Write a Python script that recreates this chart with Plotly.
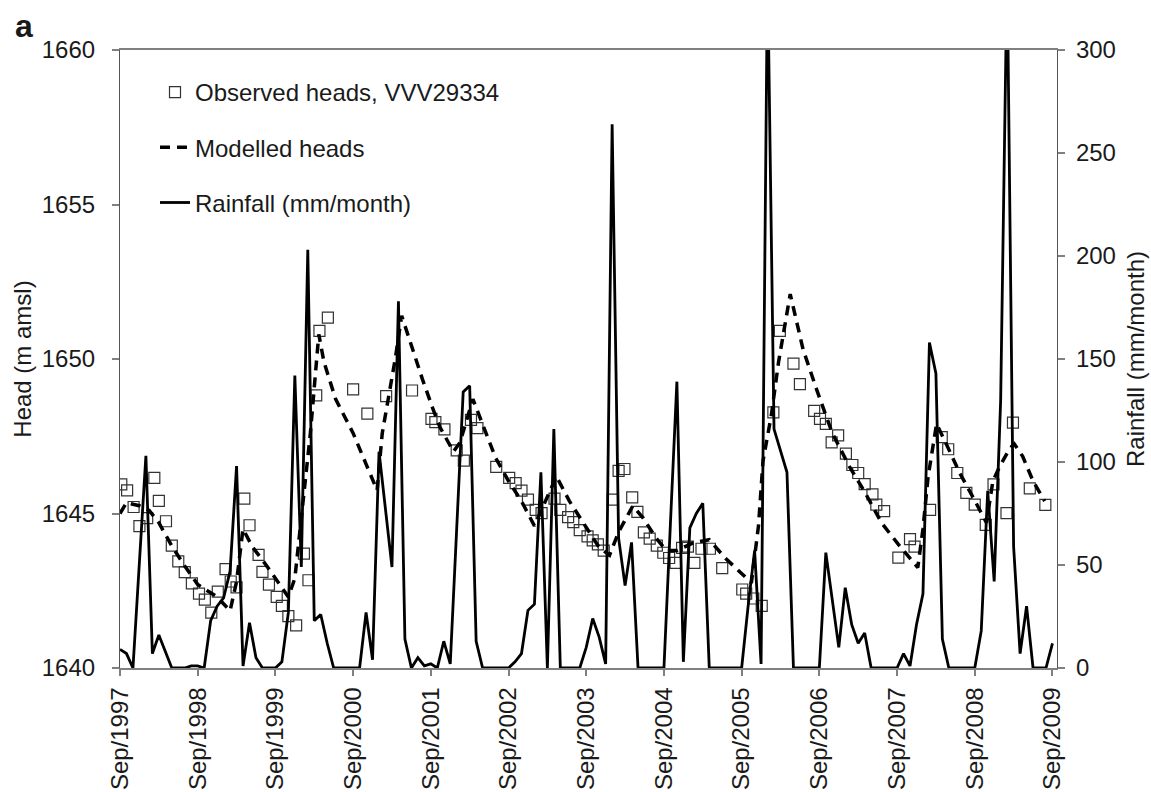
import plotly.graph_objects as go

# ---------------- data ----------------
tick_months = [0, 12, 24, 36, 48, 60, 72, 84, 96, 108, 120, 132, 144]
tick_labels = ["Sep/1997", "Sep/1998", "Sep/1999", "Sep/2000", "Sep/2001", "Sep/2002",
               "Sep/2003", "Sep/2004", "Sep/2005", "Sep/2006", "Sep/2007", "Sep/2008",
               "Sep/2009"]

# monthly rainfall (mm/month), months since Sep 1997
rain_month = list(range(145))
rain_mm = [9, 7, 0, 50, 103, 7, 16, 8, 0, 0, 0, 1,
           1, 0, 23, 30, 34, 47, 98, 1, 22, 5, 0, 0,
           0, 3, 27, 142, 49, 203, 23, 26, 12, 0, 0, 0,
           0, 0, 27, 4, 105, 77, 49, 178, 14, 0, 5, 1,
           2, 0, 13, 2, 68, 134, 137, 13, 0, 0, 0, 0,
           0, 3, 7, 28, 31, 95, 0, 116, 0, 0, 0, 0,
           10, 24, 15, 2, 264, 63, 40, 61, 0, 0, 0, 0,
           0, 70, 139, 3, 68, 75, 80, 0, 0, 0, 0, 0,
           0, 30, 57, 2, 340, 116, 106, 95, 0, 0, 0, 0,
           0, 56, 33, 10, 39, 21, 12, 17, 0, 0, 0, 0,
           0, 7, 1, 21, 36, 158, 143, 14, 0, 0, 0, 0,
           0, 18, 86, 42, 130, 340, 59, 7, 30, 0, 0, 0,
           12]

# observed heads (m amsl)
obs_month = [0.2, 1.1, 2.1, 3.0, 4.2, 5.3, 6.0, 7.1, 8.0, 9.0, 10.0, 11.1, 12.2, 13.1, 14.1,
             15.1, 16.3, 17.1, 18.0, 19.2, 20.0, 21.4, 22.0, 23.0, 24.2, 25.0, 26.0, 27.2,
             28.4, 29.1, 30.3, 30.8, 32.1, 36.0, 38.2, 41.1, 45.1, 48.1, 48.7, 50.1, 52.0,
             53.1, 54.2, 55.2, 58.1, 60.1, 61.1, 62.0, 63.0, 64.2, 65.1, 67.1, 68.0, 69.2,
             70.0, 71.0, 72.2, 73.0, 73.8, 74.7, 76.1, 77.0, 77.9, 79.1, 79.9, 80.9, 81.8,
             82.9, 83.9, 84.8, 85.8, 86.8, 87.7, 88.7, 89.8, 91.1, 93.0, 96.1, 96.7, 97.8,
             99.1, 100.9, 101.9, 104.0, 105.0, 107.2, 108.1, 109.0, 109.9, 110.9, 112.1,
             113.1, 114.0, 115.0, 116.2, 116.8, 118.0, 120.2, 122.0, 122.7, 125.1, 126.9,
             127.9, 129.3, 130.7, 132.0, 133.7, 134.9, 136.9, 137.9, 140.5, 142.9]
obs_head = [1645.94, 1645.75, 1645.21, 1644.59, 1644.85, 1646.15, 1645.41, 1644.75, 1643.96,
            1643.45, 1643.10, 1642.74, 1642.41, 1642.21, 1641.79, 1642.47, 1643.20, 1642.80,
            1642.61, 1645.48, 1644.62, 1643.66, 1643.11, 1642.70, 1642.30, 1642.01, 1641.68,
            1641.38, 1643.70, 1642.84, 1648.82, 1650.91, 1651.34, 1649.02, 1648.23, 1648.80,
            1648.98, 1648.06, 1647.96, 1647.72, 1647.04, 1646.71, 1648.03, 1647.76, 1646.51,
            1646.15, 1645.98, 1645.74, 1645.45, 1645.12, 1645.01, 1645.48, 1645.12, 1644.88,
            1644.72, 1644.46, 1644.26, 1644.13, 1644.00, 1643.80, 1645.45, 1646.38, 1646.44,
            1645.52, 1645.05, 1644.39, 1644.19, 1643.96, 1643.73, 1643.56, 1643.40, 1643.89,
            1643.93, 1643.40, 1643.86, 1643.86, 1643.23, 1642.54, 1642.41, 1642.25, 1642.01,
            1648.27, 1650.91, 1649.85, 1649.19, 1648.32, 1648.06, 1647.90, 1647.30, 1647.53,
            1646.94, 1646.57, 1646.31, 1645.95, 1645.62, 1645.29, 1645.08, 1643.57, 1644.17,
            1643.93, 1645.12, 1647.47, 1647.08, 1646.31, 1645.67, 1645.29, 1644.63, 1645.94,
            1645.01, 1647.94, 1645.81, 1645.28]

# modelled heads (m amsl)
mod_month = [0, 1, 3, 4.5, 6, 8, 10, 12, 15, 17, 18, 19, 20.5, 22, 23.5, 26, 27, 28, 29.4,
             30.7, 31.5, 33.3, 36, 38, 39.7, 40.5, 41.5, 42.5, 43.5, 45.2, 46.7, 48.3, 49.4,
             51.5, 52.5, 54.5, 56, 58, 60, 62, 64, 66.4, 67.4, 69.4, 71.5, 74, 75.6, 77,
             79.2, 80.8, 82.8, 84.4, 86, 88.5, 91, 93.5, 96.8, 97.5, 98.6, 99.3, 100.6, 101.7,
             103.5, 105.5, 107.6, 110, 112.7, 115, 117.6, 120.2, 123.2, 124, 124.8, 126.1,
             127.6, 129.7, 131.8, 133.8, 134.8, 135.8, 137.4, 138.1, 139.4, 141, 142.8]
mod_head = [1645.0, 1645.35, 1645.25, 1645.1, 1644.7, 1643.95, 1643.3, 1642.7, 1642.3, 1641.85,
            1642.8, 1644.5, 1643.9, 1643.5, 1643.05, 1642.3, 1642.9, 1644.8, 1647.6, 1650.8,
            1649.9, 1648.7, 1647.6, 1646.6, 1645.75, 1647.6, 1648.8, 1650.0, 1651.4, 1650.3,
            1649.35, 1648.4, 1647.8, 1647.0, 1647.3, 1648.7, 1647.9, 1646.8, 1646.05, 1645.4,
            1644.6, 1645.7, 1646.2, 1645.4, 1644.7, 1643.9, 1643.65, 1644.4, 1645.25, 1644.85,
            1644.2, 1643.8, 1643.8, 1644.05, 1644.15, 1643.55, 1642.9, 1642.75, 1644.6, 1646.7,
            1648.2, 1649.9, 1652.1, 1650.3, 1649.0, 1647.6, 1646.5, 1645.7, 1644.7, 1644.0,
            1643.25, 1644.5, 1646.2, 1647.9, 1647.25, 1646.3, 1645.5, 1644.7, 1646.05, 1646.5,
            1647.1, 1647.25, 1646.85, 1646.05, 1645.4]

# ---------------- figure ----------------
FONT = "Liberation Sans, Arial, Helvetica, sans-serif"
TXT = "#1a1a1a"
AX = "#808080"

fig = go.Figure()

fig.add_trace(go.Scatter(
    x=obs_month, y=obs_head, mode="markers", name="Observed heads, VVV29334",
    marker=dict(symbol="square-open", size=11, color="#333333", line=dict(width=1.2)),
    legendgroup="a",
))
fig.add_trace(go.Scatter(
    x=mod_month, y=mod_head, mode="lines", name="Modelled heads",
    line=dict(color="black", width=3.5, dash="10px,7px"),
    legendgroup="b",
))
fig.add_trace(go.Scatter(
    x=rain_month, y=rain_mm, mode="lines", name="Rainfall (mm/month)",
    line=dict(color="black", width=2.8), yaxis="y2",
    legendgroup="c",
))

pw = 1151 - 120 - 94
ph = 792 - 50 - 124

fig.update_layout(
    width=1151, height=792,
    margin=dict(l=120, r=94, t=50, b=124, autoexpand=False),
    paper_bgcolor="white", plot_bgcolor="white",
    font=dict(family=FONT, size=24, color=TXT),
    showlegend=True,
    legend=dict(
        x=(155 - 120) / pw, y=1 + (50 - 70) / ph, xanchor="left", yanchor="top",
        bgcolor="rgba(0,0,0,0)", borderwidth=0,
        font=dict(size=24, family=FONT, color=TXT),
        tracegroupgap=21, traceorder="grouped",
        itemwidth=30,
    ),
    xaxis=dict(
        range=[0, 144.7], tickmode="array", tickvals=tick_months, ticktext=tick_labels,
        tickangle=-90, ticks="outside", ticklen=6, tickcolor=AX, tickwidth=1.5,
        showline=True, linecolor=AX, linewidth=1.5, mirror=True,
        showgrid=False, zeroline=False, automargin=False,
        tickfont=dict(size=24, family=FONT, color=TXT),
        ticklabelstandoff=2,
    ),
    yaxis=dict(
        range=[1640, 1660], tickvals=[1640, 1645, 1650, 1655, 1660],
        ticks="outside", ticklen=7, tickcolor=AX, tickwidth=1.5,
        showline=True, linecolor="#555555", linewidth=1.2,
        showgrid=False, zeroline=False, automargin=False,
        tickfont=dict(size=24, family=FONT, color=TXT),
        ticklabelstandoff=12,
        title=dict(text="Head (m amsl)", font=dict(size=24, family=FONT, color=TXT), standoff=3),
    ),
    yaxis2=dict(
        range=[0, 300], tickvals=[0, 50, 100, 150, 200, 250, 300],
        overlaying="y", side="right",
        ticks="outside", ticklen=7, tickcolor=AX, tickwidth=1.5,
        showline=True, linecolor="#555555", linewidth=1.2,
        showgrid=False, zeroline=False, automargin=False,
        tickfont=dict(size=24, family=FONT, color=TXT),
        ticklabelstandoff=6,
        title=dict(text="Rainfall (mm/month)", font=dict(size=24, family=FONT, color=TXT), standoff=12),
    ),
    annotations=[dict(
        text="<b>a</b>", x=(24 - 120) / pw, y=1 + (50 - 26) / ph,
        xref="paper", yref="paper", showarrow=False,
        xanchor="center", yanchor="middle",
        font=dict(size=32, family=FONT, color=TXT),
    )],
)

fig.write_html("out.html")
